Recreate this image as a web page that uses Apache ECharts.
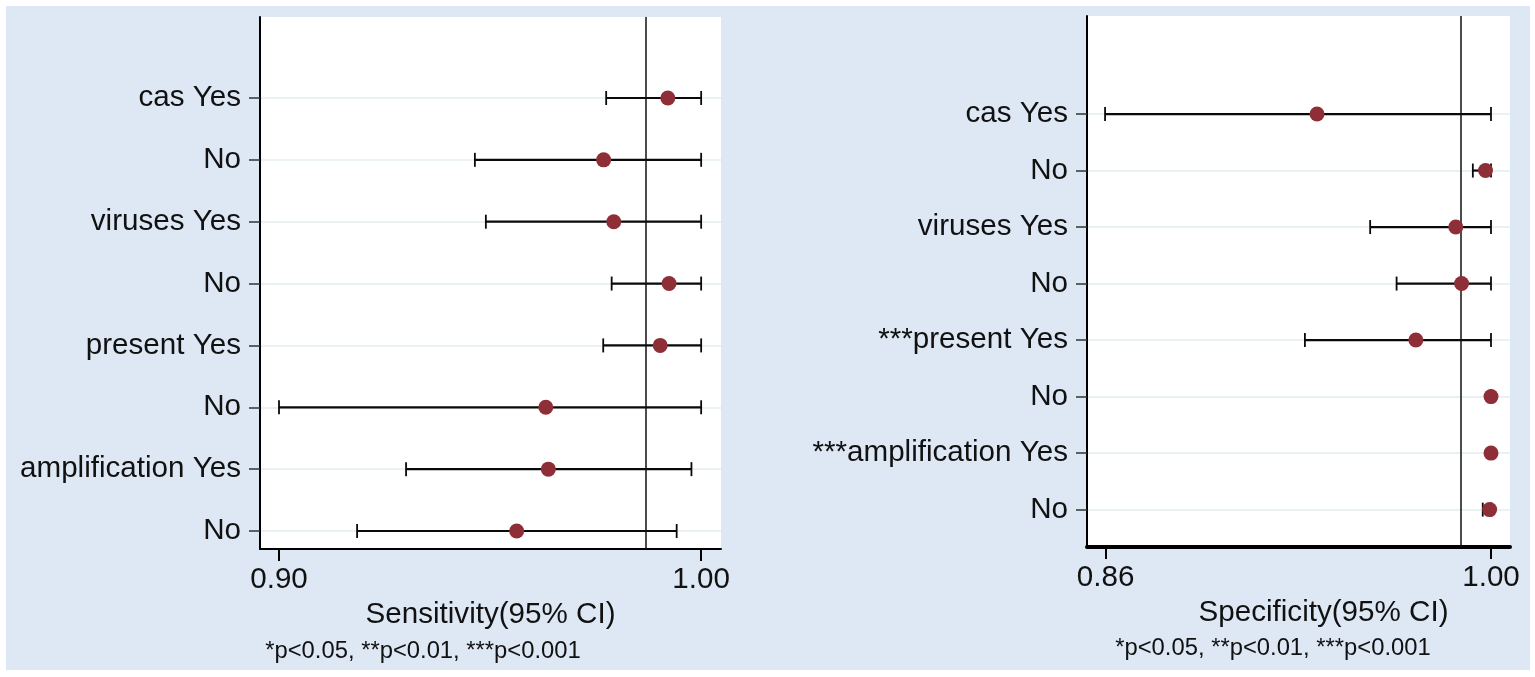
<!DOCTYPE html>
<html>
<head>
<meta charset="utf-8">
<title>Sensitivity / Specificity forest plot</title>
<script src="https://cdn.jsdelivr.net/npm/echarts@6/dist/echarts.min.js"></script>
<style>
    html, body { margin: 0; padding: 0; background: #fff; }
    #chart { width: 1535px; height: 677px; }
</style>
</head>
<body>
<div id="chart"></div>
<script>
// --- data (rows listed top to bottom) ---
const sensLabels = ['cas Yes', 'No', 'viruses Yes', 'No', 'present Yes', 'No', 'amplification Yes', 'No'];
const sensEst = [0.9921, 0.9769, 0.9793, 0.9924, 0.9903, 0.9632, 0.9638, 0.9563];
const sensLow = [0.9775, 0.9464, 0.9490, 0.9788, 0.9768, 0.9000, 0.9301, 0.9185];
const sensHigh = [1.0, 1.0, 1.0, 1.0, 1.0, 1.0, 0.9977, 0.9942];
const sensPooled = 0.9869;
const sensTicks = [0.90, 1.00];

const specLabels = ['cas Yes', 'No', 'viruses Yes', 'No', '***present Yes', 'No', '***amplification Yes', 'No'];
const specEst = [0.9368, 0.9980, 0.9872, 0.9893, 0.9727, 1.0, 1.0, 0.9995];
const specLow = [0.8598, 0.9934, 0.9561, 0.9657, 0.9324, 1.0, 1.0, 0.9970];
const specHigh = [1.0, 1.0, 1.0, 1.0, 1.0, 1.0, 1.0, 1.0];
const specPooled = 0.9891;
const specTicks = [0.86, 1.00];

const footnote = '*p<0.05, **p<0.01, ***p<0.001';

const FONT = "'Liberation Sans', Arial, sans-serif";
const DOT = '#8e2f38';
const ROWS = sensLabels.length;
// row i sits at y position ROWS - i (top row highest)
const rowPos = sensLabels.map((_, i) => ROWS - i);

function errorBar(params, api) {
    const y = api.value(0);
    const a = api.coord([api.value(1), y]);
    const b = api.coord([api.value(2), y]);
    const h = 7;
    const bar = { stroke: '#0a0a0a', lineWidth: 2.2 };
    const cap = { stroke: '#0a0a0a', lineWidth: 1.8 };
    return {
        type: 'group',
        children: [
            { type: 'line', shape: { x1: a[0], y1: a[1], x2: b[0], y2: b[1] }, style: bar },
            { type: 'line', shape: { x1: a[0], y1: a[1] - h, x2: a[0], y2: a[1] + h }, style: cap },
            { type: 'line', shape: { x1: b[0], y1: b[1] - h, x2: b[0], y2: b[1] + h }, style: cap }
        ]
    };
}

function xAxisFor(gridIndex, min, max, ticks, name, lineWidth, namePad) {
    return {
        gridIndex, type: 'value', min, max,
        name, nameLocation: 'middle', nameGap: 50,
        nameTextStyle: { fontFamily: FONT, fontSize: 29.6, color: '#111', padding: namePad },
        axisLine: { show: true, onZero: false, lineStyle: { color: '#000', width: lineWidth } },
        axisTick: { show: true, customValues: ticks, length: 12, lineStyle: { color: '#000', width: 2 } },
        axisLabel: {
            customValues: ticks, margin: 16,
            fontFamily: FONT, fontSize: 29.6, color: '#111',
            formatter: v => Number(v).toFixed(2)
        },
        splitLine: { show: false }
    };
}

function yAxisFor(gridIndex, min, max, labels) {
    return {
        gridIndex, type: 'value', min, max,
        axisLine: { show: true, onZero: false, lineStyle: { color: '#000', width: 2 } },
        axisTick: { show: true, customValues: rowPos, length: 11, lineStyle: { color: '#333', width: 1.5 } },
        axisLabel: {
            customValues: rowPos, margin: 19,
            fontFamily: FONT, fontSize: 29.6, color: '#111',
            formatter: v => labels[ROWS - Math.round(v)]
        },
        splitLine: { show: true, lineStyle: { color: '#e9f1f2', width: 2 } }
    };
}

function panelSeries(idx, est, low, high, pooled) {
    return [
        {
            type: 'custom',
            xAxisIndex: idx, yAxisIndex: idx,
            renderItem: errorBar,
            encode: { x: [1, 2], y: 0 },
            data: rowPos.map((p, i) => [p, low[i], high[i]]),
            z: 3,
            silent: true
        },
        {
            type: 'scatter',
            xAxisIndex: idx, yAxisIndex: idx,
            symbol: 'circle', symbolSize: 15,
            itemStyle: { color: DOT, opacity: 1 },
            data: rowPos.map((p, i) => [est[i], p]),
            z: 5,
            markLine: {
                silent: true, symbol: ['none', 'none'],
                precision: 4,
                label: { show: false },
                lineStyle: { color: '#111', width: 1.5, type: 'solid' },
                data: [{ xAxis: pooled }]
            }
        }
    ];
}

const chart = echarts.init(document.getElementById('chart'));

chart.setOption({
    animation: false,
    backgroundColor: '#fff',
    graphic: [
        { type: 'rect', z: -100, silent: true, shape: { x: 6, y: 6, width: 1524, height: 664 }, style: { fill: '#dde8f4' } },
        { type: 'text', silent: true, style: { x: 423, y: 651, text: footnote, textAlign: 'center', textVerticalAlign: 'middle', font: '23.8px ' + FONT, fill: '#111' } },
        { type: 'text', silent: true, style: { x: 1273, y: 648, text: footnote, textAlign: 'center', textVerticalAlign: 'middle', font: '23.8px ' + FONT, fill: '#111' } }
    ],
    grid: [
        { left: 260, top: 17, width: 461, height: 532, show: true, backgroundColor: '#fff', borderWidth: 0 },
        { left: 1087, top: 16, width: 423, height: 531, show: true, backgroundColor: '#fff', borderWidth: 0 }
    ],
    xAxis: [
        xAxisFor(0, 0.8955, 1.0047, sensTicks, 'Sensitivity(95% CI)', 2, [0, 0, 0, 0]),
        xAxisFor(1, 0.85324, 1.0069, specTicks, 'Specificity(95% CI)', 4, [0, 0, 0, 50])
    ],
    yAxis: [
        yAxisFor(0, 0.709, 9.309, sensLabels),
        yAxisFor(1, 0.338, 9.735, specLabels)
    ],
    series: [
        ...panelSeries(0, sensEst, sensLow, sensHigh, sensPooled),
        ...panelSeries(1, specEst, specLow, specHigh, specPooled)
    ]
});
</script>
</body>
</html>
